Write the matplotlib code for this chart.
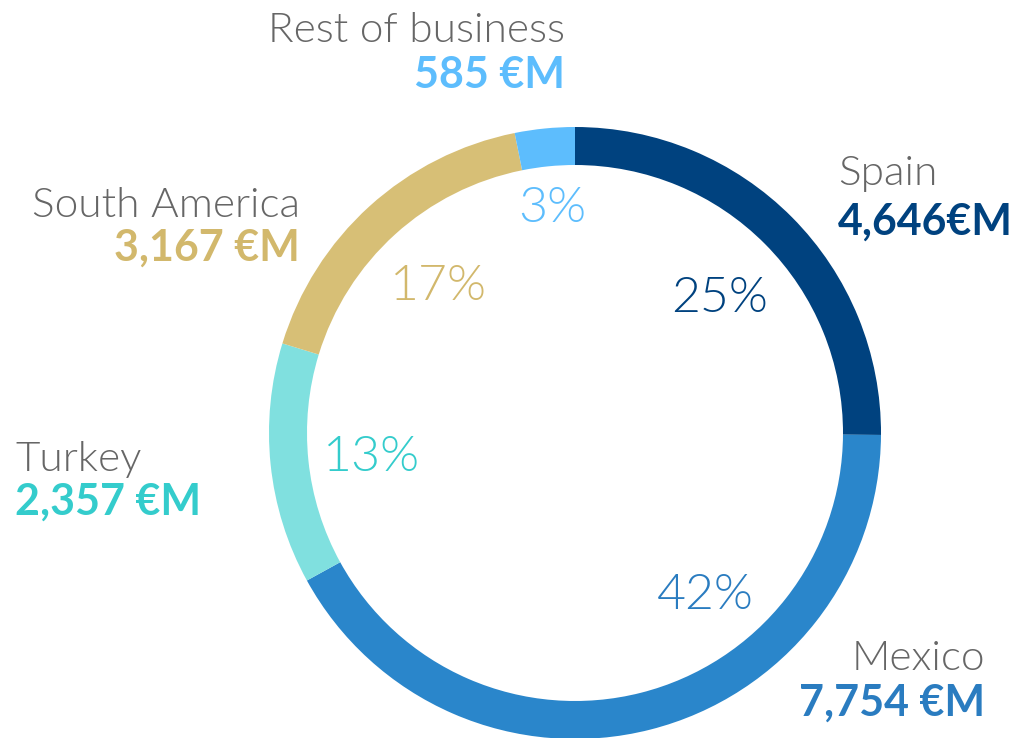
import matplotlib
matplotlib.use("Agg")
import matplotlib.pyplot as plt
from matplotlib.patches import Wedge

# Revenue split by business area
regions = ["Spain", "Mexico", "Turkey", "South America", "Rest of business"]
values = [4646, 7754, 2357, 3167, 585]
value_labels = ["4,646€M", "7,754 €M", "2,357 €M", "3,167 €M", "585 €M"]
ring_colors = ["#00427f", "#2a86cb", "#80e0df", "#d7bf76", "#5dbdfd"]
text_colors = ["#00427f", "#2a7cc0", "#34cccc", "#d2b86c", "#5dbdfd"]

plt.rcParams['font.family'] = ['Lato', 'DejaVu Sans']

fig = plt.figure(figsize=(10.13, 7.38), dpi=100)
ax = fig.add_axes([0, 0, 1, 1])
ax.set_xlim(0, 1013)
ax.set_ylim(738, 0)
ax.set_aspect('equal')
ax.axis('off')

cx, cy = 575, 433
r_out, width = 306, 38

total = sum(values)
start = -90.0
for v, c in zip(values, ring_colors):
    span = 360.0 * v / total
    ax.add_patch(Wedge((cx, cy), r_out, start, start + span, width=width,
                       facecolor=c, edgecolor='none'))
    start += span

# name / amount captions around the ring
captions = {
    "Spain": (838, 185, 235, 'left'),
    "Mexico": (985, 670, 716, 'right'),
    "Turkey": (15, 471, 515, 'left'),
    "South America": (300, 217, 261, 'right'),
    "Rest of business": (565, 42, 88, 'right'),
}
for name, vl, tc in zip(regions, value_labels, text_colors):
    x, y1, y2, ha = captions[name]
    ax.text(x, y1, name, fontsize=30.5, fontweight=300, color='#666666',
            ha=ha, va='baseline')
    ax.text(x, y2, vl, fontsize=31, fontweight='bold', color=tc,
            ha=ha, va='baseline')

# percentage labels inside the ring
pct_pos = [(720, 312), (705, 609), (372, 471), (438, 300), (552, 222)]
for v, tc, (x, y) in zip(values, text_colors, pct_pos):
    ax.text(x, y, f"{round(100 * v / total)}%", fontsize=36,
            fontweight=300, color=tc, ha='center', va='baseline')

fig.savefig("out.png", dpi=100)
